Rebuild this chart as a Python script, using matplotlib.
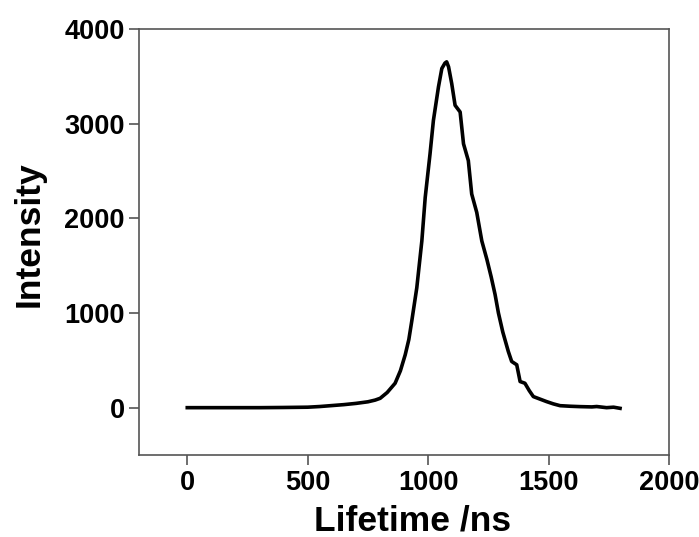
import matplotlib.pyplot as plt

plt.rcParams['font.family'] = ['Liberation Sans', 'DejaVu Sans']
plt.rcParams['font.weight'] = 'bold'

# Data
lifetime = [0, 100, 200, 300, 400, 500, 550, 600, 650, 700, 750, 780, 801, 830,
            863, 885, 905, 920, 932, 953, 974, 988, 1008, 1022, 1043, 1057, 1070,
            1077, 1085, 1098, 1112, 1133, 1147, 1167, 1181, 1202, 1223, 1244,
            1262, 1278, 1292, 1310, 1333, 1347, 1368, 1382, 1402, 1420, 1437,
            1465, 1492, 1520, 1548, 1590, 1631, 1680, 1700, 1741, 1770, 1797]
intensity = [0, 0, 0, 0, 2, 5, 12, 22, 32, 45, 62, 80, 99, 160,
             258, 390, 559, 720, 912, 1266, 1761, 2221, 2681, 3034, 3388, 3583, 3640,
             3653, 3600, 3424, 3194, 3123, 2787, 2610, 2257, 2062, 1761, 1567,
             1380, 1196, 1000, 800, 594, 488, 453, 276, 258, 180, 117,
             90, 64, 40, 21, 15, 11, 8, 12, 0, 5, -7]

xticks = [0, 500, 1000, 1500, 2000]
yticks = [0, 1000, 2000, 3000, 4000]

fig = plt.figure(figsize=(6.99, 5.37), dpi=100)
ax = fig.add_axes([0.199, 0.1527, 0.758, 0.7933])

ax.plot(lifetime, intensity, color="black", linewidth=2.6)

ax.set_xlim(-200, 2000)
ax.set_ylim(-500, 4000)
ax.set_xticks(xticks)
ax.set_yticks(yticks)
ax.tick_params(direction="out", length=7, width=1.2, color="#555555",
               labelsize=19.5, top=False, right=False)
for lbl in ax.get_xticklabels() + ax.get_yticklabels():
    lbl.set_fontweight("bold")
for sp in ax.spines.values():
    sp.set_color("#555555")
    sp.set_linewidth(1.2)

ax.set_xlabel("Lifetime /ns", fontsize=25.5, fontweight="bold")
ax.set_ylabel("Intensity", fontsize=25.5, fontweight="bold")
ax.xaxis.set_label_coords(0.517, -0.117)
ax.yaxis.set_label_coords(-0.177, 0.519)

plt.savefig("out.png", dpi=100)
plt.close()
